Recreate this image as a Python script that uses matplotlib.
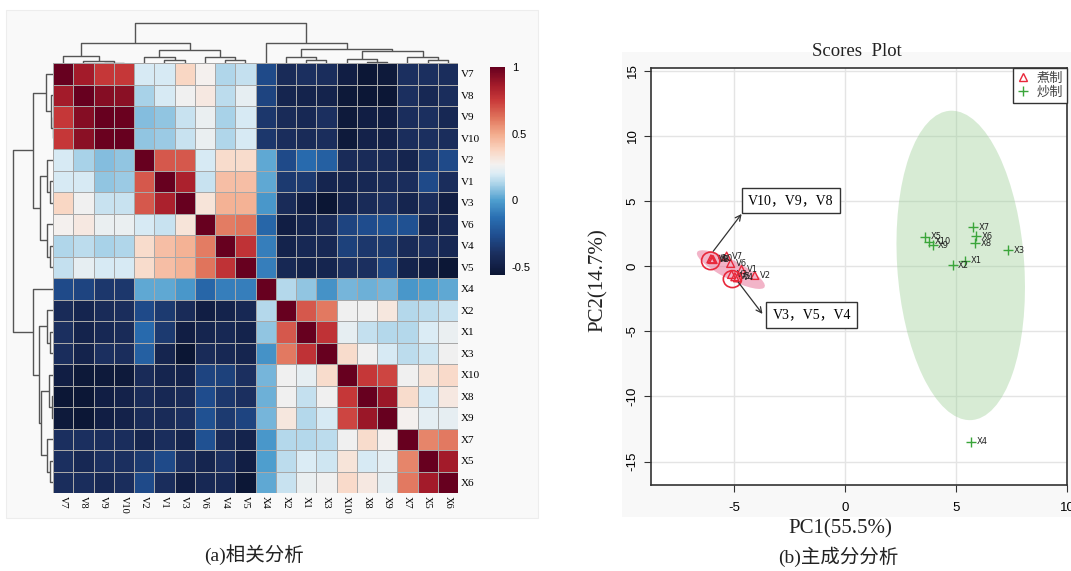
import numpy as np
import matplotlib
matplotlib.use("Agg")
import matplotlib.pyplot as plt
from matplotlib.patches import Ellipse, Rectangle
from matplotlib.lines import Line2D
from matplotlib.colors import LinearSegmentedColormap

plt.rcParams['axes.unicode_minus'] = False

# ---------------- data: correlation heatmap ----------------
labels = ["V7", "V8", "V9", "V10", "V2", "V1", "V3", "V6", "V4", "V5",
          "X4", "X2", "X1", "X3", "X10", "X8", "X9", "X7", "X5", "X6"]

corr_lower = [
    [1],
    [0.86, 1],
    [0.76, 0.93, 1],
    [0.76, 0.92, 0.99, 1],
    [0.19, 0.12, 0.07, 0.09, 1],
    [0.19, 0.19, 0.09, 0.10, 0.68, 1],
    [0.37, 0.26, 0.17, 0.17, 0.68, 0.84, 1],
    [0.27, 0.30, 0.24, 0.24, 0.19, 0.17, 0.32, 1],
    [0.13, 0.15, 0.12, 0.13, 0.35, 0.44, 0.48, 0.60, 1],
    [0.16, 0.23, 0.19, 0.19, 0.35, 0.44, 0.48, 0.62, 0.78, 1],
    [-0.28, -0.31, -0.36, -0.36, 0.02, 0.02, -0.02, -0.17, -0.09, -0.09, 1],
    [-0.42, -0.46, -0.42, -0.41, -0.28, -0.35, -0.42, -0.50, -0.47, -0.44, 0.14, 1],
    [-0.40, -0.47, -0.44, -0.42, -0.15, -0.35, -0.50, -0.46, -0.44, -0.47, 0.09, 0.68, 1],
    [-0.41, -0.47, -0.40, -0.41, -0.19, -0.46, -0.58, -0.42, -0.44, -0.46, -0.03, 0.61, 0.78, 1],
    [-0.50, -0.54, -0.53, -0.53, -0.42, -0.46, -0.47, -0.31, -0.32, -0.40, 0.05, 0.26, 0.23, 0.35, 1],
    [-0.55, -0.55, -0.50, -0.48, -0.42, -0.44, -0.42, -0.27, -0.36, -0.40, 0.04, 0.26, 0.16, 0.26, 0.76, 1],
    [-0.53, -0.55, -0.50, -0.48, -0.42, -0.42, -0.40, -0.25, -0.35, -0.31, 0.05, 0.31, 0.14, 0.19, 0.72, 0.88, 1],
    [-0.40, -0.40, -0.41, -0.41, -0.46, -0.41, -0.46, -0.25, -0.42, -0.47, -0.02, 0.14, 0.14, 0.15, 0.26, 0.35, 0.27, 1],
    [-0.40, -0.44, -0.40, -0.40, -0.35, -0.28, -0.41, -0.46, -0.40, -0.50, 0.00, 0.15, 0.20, 0.18, 0.32, 0.19, 0.22, 0.58, 1],
    [-0.41, -0.41, -0.44, -0.41, -0.28, -0.41, -0.50, -0.44, -0.44, -0.55, 0.02, 0.17, 0.24, 0.26, 0.36, 0.30, 0.23, 0.61, 0.86, 1],
]

# hierarchical clustering merges (node k is named "n{k}")
merge_a = ["V9", "V8", "V7", "V1", "V2", "V4", "V6", "n4", "n2", "X1",
           "X2", "X8", "X10", "X5", "X7", "n12", "n10", "X4", "n8"]
merge_b = ["V10", "n0", "n1", "V3", "n3", "V5", "n5", "n6", "n7", "X3",
           "n9", "X9", "n11", "X6", "n13", "n14", "n15", "n16", "n17"]
merge_h = [0.5, 2, 7, 3, 5.7, 3, 5.7, 13, 20, 3,
           5.7, 1.3, 3.7, 3, 5.7, 12.5, 14.5, 20, 40]

cbar_ticks = [-0.5, 0, 0.5, 1]
cbar_ticklabels = ["-0.5", "0", "0.5", "1"]

# colour scale
cmap_values = [-0.56, -0.50, -0.40, -0.27, -0.13, 0.00, 0.12, 0.20, 0.27,
               0.38, 0.50, 0.62, 0.75, 0.86, 1.00]
cmap_colors = ["#0b1634", "#121f45", "#1b2f5f", "#1f4d8e", "#2a6fb2",
               "#4f9fcf", "#a9d2e8", "#dcecf5", "#f4f1ef", "#fad4c0",
               "#f3ab8c", "#e0745c", "#c93a3a", "#a51c2a", "#67001f"]

# ---------------- data: PCA scores ----------------
boiled_labels = ["V1", "V2", "V3", "V4", "V5", "V6", "V7", "V8", "V9", "V10"]
boiled_pc1 = [-4.67, -4.07, -5.12, -4.85, -4.97, -5.16, -5.34, -5.95, -6.00, -6.05]
boiled_pc2 = [-0.26, -0.72, -0.64, -0.90, -0.82, 0.20, 0.77, 0.50, 0.52, 0.55]

stir_labels = ["X1", "X2", "X3", "X4", "X5", "X6", "X7", "X8", "X9", "X10"]
stir_pc1 = [5.39, 4.84, 7.34, 5.69, 3.59, 5.89, 5.77, 5.84, 3.94, 3.78]
stir_pc2 = [0.41, 0.08, 1.23, -13.48, 2.25, 2.30, 2.97, 1.74, 1.61, 1.87]

group_names = ["煮制", "炒制"]
pc1_label = "PC1(55.5%)"
pc2_label = "PC2(14.7%)"

# ---------------- figure ----------------
W, H = 1071, 571
fig = plt.figure(figsize=(W / 100, H / 100), dpi=100)


def box(x0, y0, x1, y1):
    return [x0 / W, 1 - y1 / H, (x1 - x0) / W, (y1 - y0) / H]


serif = "Liberation Serif"
cjk = ["Liberation Serif", "Noto Sans CJK SC"]

fig.patches.append(Rectangle((6 / W, 1 - 518 / H), 532 / W, 508 / H,
                             transform=fig.transFigure, facecolor="#f9f9f9",
                             edgecolor="#ededed", lw=0.8, zorder=-5))
fig.patches.append(Rectangle((622 / W, 1 - 517 / H), 449 / W, 465 / H,
                             transform=fig.transFigure, facecolor="#f8f8f8",
                             edgecolor="none", zorder=-5))

# heatmap
n = len(labels)
corr = np.zeros((n, n))
for i, row in enumerate(corr_lower):
    for j, v in enumerate(row):
        corr[i, j] = v
        corr[j, i] = v

vmin, vmax = cmap_values[0], cmap_values[-1]
cmap = LinearSegmentedColormap.from_list(
    "ref", [((v - vmin) / (vmax - vmin), c) for v, c in zip(cmap_values, cmap_colors)])

ax_h = fig.add_axes(box(53, 63, 458, 493))
mesh = ax_h.pcolormesh(corr, cmap=cmap, vmin=vmin, vmax=vmax,
                       edgecolors="#a8a8a8", linewidth=0.7)
ax_h.set_xlim(0, n)
ax_h.set_ylim(n, 0)
ax_h.set_xticks(np.arange(n) + 0.5)
ax_h.set_xticklabels(labels, rotation=270, fontsize=7.5, family=serif)
ax_h.yaxis.tick_right()
ax_h.set_yticks(np.arange(n) + 0.5)
ax_h.set_yticklabels(labels, fontsize=8, family=serif)
ax_h.tick_params(length=0, pad=2)
for s in ax_h.spines.values():
    s.set_visible(False)


def draw_dendro(ax, orient):
    pos = {lab: i + 0.5 for i, lab in enumerate(labels)}
    hgt = {lab: 0.0 for lab in labels}
    for k, (a, b, h) in enumerate(zip(merge_a, merge_b, merge_h)):
        pa, pb, ha, hb = pos[a], pos[b], hgt[a], hgt[b]
        xs = [pa, pa, pb, pb]
        ys = [ha, h, h, hb]
        if orient == "top":
            ax.plot(xs, ys, color="#555555", lw=1.0, solid_capstyle="butt")
        else:
            ax.plot(ys, xs, color="#555555", lw=1.0, solid_capstyle="butt")
        pos[f"n{k}"] = (pa + pb) / 2
        hgt[f"n{k}"] = h
    ax.axis("off")


ax_t = fig.add_axes(box(53, 20, 458, 63))
draw_dendro(ax_t, "top")
ax_t.set_xlim(0, n)
ax_t.set_ylim(0, 43)

ax_l = fig.add_axes(box(10, 63, 53, 493))
draw_dendro(ax_l, "left")
ax_l.set_xlim(43, 0)
ax_l.set_ylim(n, 0)

ax_c = fig.add_axes(box(490, 67, 505, 275))
cb = fig.colorbar(mesh, cax=ax_c, ticks=cbar_ticks)
cb.outline.set_visible(False)
ax_c.set_yticklabels(cbar_ticklabels, fontsize=8, family="Liberation Sans")
ax_c.tick_params(length=0, pad=5)

fig.text(254 / W, 1 - 555 / H, "(a)相关分析", ha="center", va="center",
         fontsize=14, family=cjk, color="#222222")

# ---------------- PCA score plot ----------------
ax = fig.add_axes(box(651, 68, 1067, 485))
ax.set_facecolor("white")
ax.set_xlim(-8.75, 10.0)
ax.set_ylim(-16.8, 15.2)
ax.set_xticks([-5, 0, 5, 10])
ax.set_yticks([-15, -10, -5, 0, 5, 10, 15])
ax.set_xticklabels(["-5", "0", "5", "10"], fontsize=9.5, family="Liberation Sans")
ax.set_yticklabels(["-15", "-10", "-5", "0", "5", "10", "15"], fontsize=9.5,
                   family="Liberation Sans", rotation=90, va="center")
ax.tick_params(axis="x", length=5, pad=7, color="#333333")
ax.tick_params(axis="y", length=5, pad=4, color="#333333")
ax.grid(True, color="#e4e4e4", lw=1.0)
ax.set_axisbelow(True)
for s in ax.spines.values():
    s.set_color("#333333")
    s.set_linewidth(1.2)

ax.add_patch(Ellipse((-5.15, -0.27), 4.09, 1.22, angle=-43.9,
                     facecolor="#e66a92", alpha=0.5, edgecolor="none", zorder=2))
ax.add_patch(Ellipse((5.21, 0.05), 23.76, 5.73, angle=-87.9,
                     facecolor="#9bcf95", alpha=0.4, edgecolor="none", zorder=2))

red = "#e8283a"
green = "#3aa53a"
ax.scatter(boiled_pc1, boiled_pc2, marker="^", s=32, facecolors="none",
           edgecolors=red, linewidths=1.0, zorder=4)
ax.scatter(stir_pc1, stir_pc2, marker="+", s=48, color=green,
           linewidths=1.0, zorder=4)
for lab, x, y in zip(boiled_labels, boiled_pc1, boiled_pc2):
    ax.annotate(lab, (x, y), xytext=(4, 0), textcoords="offset points",
                fontsize=6, va="center", color="#222222", zorder=5)
for lab, x, y in zip(stir_labels, stir_pc1, stir_pc2):
    ax.annotate(lab, (x, y), xytext=(4, 0), textcoords="offset points",
                fontsize=6, va="center", color="#222222", zorder=5)

# highlight circles
ax.add_patch(Ellipse((-6.06, 0.40), 0.82, 1.35, facecolor="none",
                     edgecolor=red, lw=1.2, zorder=6))
ax.add_patch(Ellipse((-5.08, -1.0), 0.82, 1.30, facecolor="none",
                     edgecolor=red, lw=1.2, zorder=6))

# arrows + callout boxes
ax.annotate("", xy=(-4.59, 4.17), xytext=(-6.02, 0.97),
            arrowprops=dict(arrowstyle="->", color="#333333", lw=0.9), zorder=6)
ax.annotate("", xy=(-3.65, -3.84), xytext=(-4.89, -1.07),
            arrowprops=dict(arrowstyle="->", color="#333333", lw=0.9), zorder=6)
ax.text(-2.45, 5.04, "V10，V9，V8", ha="center", va="center", fontsize=10,
        family=cjk, zorder=7,
        bbox=dict(boxstyle="square,pad=0.45", facecolor="white",
                  edgecolor="#333333", lw=1.0))
ax.text(-1.5, -3.74, "V3，V5，V4", ha="center", va="center", fontsize=10,
        family=cjk, zorder=7,
        bbox=dict(boxstyle="square,pad=0.45", facecolor="white",
                  edgecolor="#333333", lw=1.0))

handles = [Line2D([], [], marker="^", ls="none", markerfacecolor="none",
                  markeredgecolor=red, markersize=5.5),
           Line2D([], [], marker="+", ls="none", color=green, markersize=7)]
leg = ax.legend(handles, group_names, loc="upper right", borderaxespad=0,
                frameon=True, fancybox=False, framealpha=1,
                prop={"family": "Noto Sans CJK SC", "size": 9.5},
                handlelength=1.0, handletextpad=0.5, borderpad=0.3,
                labelspacing=0.05)
leg.get_frame().set_edgecolor("#333333")
leg.get_frame().set_linewidth(1.0)
for t in leg.get_texts():
    t.set_color("#444444")

fig.text(857 / W, 1 - 52 / H, "Scores  Plot", ha="center", va="center",
         fontsize=13.5, family=serif, color="#222222")
fig.text(840 / W, 1 - 529 / H, pc1_label, ha="center", va="center",
         fontsize=15, family=serif, color="#222222")
fig.text(598 / W, 1 - 280 / H, pc2_label, ha="center", va="center",
         fontsize=15, family=serif, rotation=90, color="#222222")
fig.text(838 / W, 1 - 557 / H, "(b)主成分分析", ha="center", va="center",
         fontsize=14, family=cjk, color="#222222")

fig.savefig("out.png", dpi=100)
